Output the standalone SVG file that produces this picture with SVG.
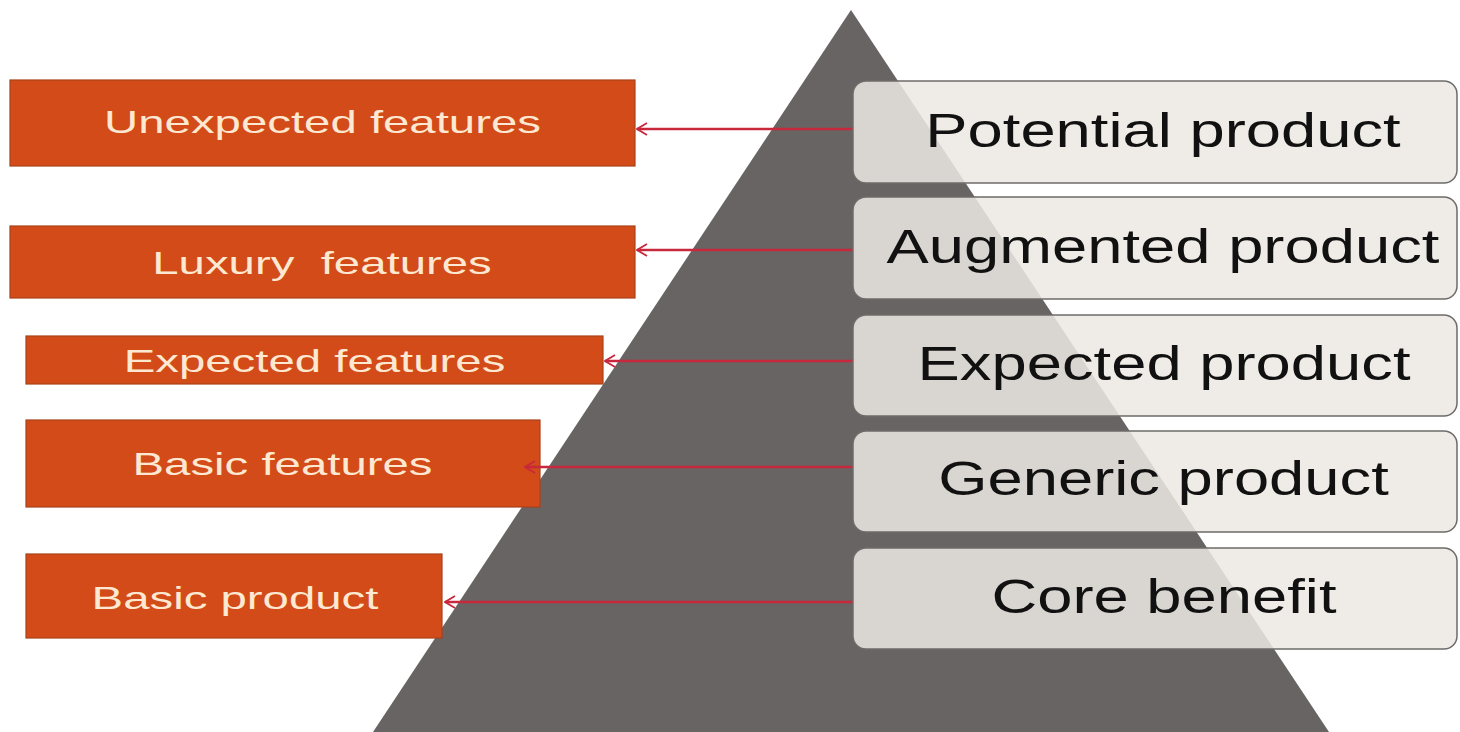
<svg xmlns="http://www.w3.org/2000/svg" width="1460" height="732" viewBox="0 0 1460 732">
  <defs>
    <marker id="arr" viewBox="0 0 12 14" refX="11" refY="7" markerWidth="12" markerHeight="14" markerUnits="userSpaceOnUse" orient="auto">
      <path d="M1,1 L11,7 L1,13" fill="none" stroke="#c8283c" stroke-width="1.8"/>
    </marker>
  </defs>
  <style>
    .feat { fill: #d24b18; stroke: #a8411a; stroke-width: 1.2; }
    .ftxt { font-family: "Liberation Sans", Arial, sans-serif; font-size: 32px; fill: #fde8d2; text-anchor: middle; }
    .lvl { fill: #ece8e2; fill-opacity: 0.86; stroke: #6e6c6a; stroke-width: 1.5; }
    .ltxt { font-family: "Liberation Sans", Arial, sans-serif; font-size: 48px; fill: #111111; text-anchor: middle; }
    .conn { stroke: #c8283c; stroke-width: 2.4; fill: none; }
  </style>
  <rect x="0" y="0" width="1460" height="732" fill="#ffffff"/>
  <g id="pyramid">
    <polygon points="851,10 1329,732 373,732" fill="#676463"/>
  </g>
  <g id="feat-unexpected">
    <rect class="feat" x="10" y="80" width="625" height="86"/>
    <text class="ftxt" transform="translate(322.5,133) scale(1.48,1)">Unexpected features</text>
  </g>
  <g id="feat-luxury">
    <rect class="feat" x="10" y="226" width="625" height="72"/>
    <text class="ftxt" transform="translate(322,274) scale(1.48,1)" xml:space="preserve">Luxury  features</text>
  </g>
  <g id="feat-expected">
    <rect class="feat" x="26" y="336" width="577" height="48"/>
    <text class="ftxt" transform="translate(314.5,372) scale(1.48,1)">Expected features</text>
  </g>
  <g id="feat-basic">
    <rect class="feat" x="26" y="420" width="514" height="87"/>
    <text class="ftxt" transform="translate(282.5,475) scale(1.48,1)">Basic features</text>
  </g>
  <g id="feat-basicproduct">
    <rect class="feat" x="26" y="554" width="416" height="84"/>
    <text class="ftxt" transform="translate(235,609) scale(1.48,1)">Basic product</text>
  </g>
  <g id="connectors">
    <line class="conn" x1="856" y1="129" x2="637" y2="129" marker-end="url(#arr)"/>
    <line class="conn" x1="856" y1="250" x2="637" y2="250" marker-end="url(#arr)"/>
    <line class="conn" x1="856" y1="361" x2="605" y2="361" marker-end="url(#arr)"/>
    <line class="conn" x1="856" y1="467" x2="525" y2="467" marker-end="url(#arr)"/>
    <line class="conn" x1="856" y1="602" x2="445" y2="602" marker-end="url(#arr)"/>
  </g>
  <g id="level-potential">
    <rect class="lvl" x="853" y="81" width="604" height="102" rx="13"/>
    <text class="ltxt" transform="translate(1163,147) scale(1.32,1)">Potential product</text>
  </g>
  <g id="level-augmented">
    <rect class="lvl" x="853" y="197" width="604" height="102" rx="13"/>
    <text class="ltxt" transform="translate(1163,263) scale(1.32,1)">Augmented product</text>
  </g>
  <g id="level-expected">
    <rect class="lvl" x="853" y="315" width="604" height="101" rx="13"/>
    <text class="ltxt" transform="translate(1164,380) scale(1.32,1)">Expected product</text>
  </g>
  <g id="level-generic">
    <rect class="lvl" x="853" y="431" width="604" height="101" rx="13"/>
    <text class="ltxt" transform="translate(1163.5,495) scale(1.32,1)">Generic product</text>
  </g>
  <g id="level-core">
    <rect class="lvl" x="853" y="548" width="604" height="101" rx="13"/>
    <text class="ltxt" transform="translate(1164,613) scale(1.32,1)">Core benefit</text>
  </g>
</svg>
